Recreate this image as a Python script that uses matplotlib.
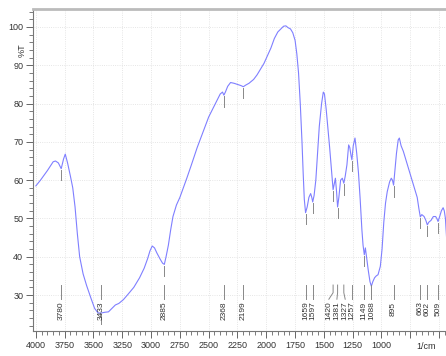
"""IR spectrum (%T vs wavenumber) with peak labels, Shimadzu-style."""

import matplotlib
matplotlib.use("Agg")
import matplotlib.pyplot as plt
from matplotlib.ticker import MultipleLocator, FuncFormatter
from matplotlib.transforms import blended_transform_factory

# -------------------- data --------------------

wavenumber = [
    4000, 3960, 3900, 3850, 3830, 3805, 3780, 3760, 3745, 3725, 3700, 3680,
    3660, 3640, 3620, 3590, 3560, 3520, 3490, 3460, 3433, 3400, 3370, 3340,
    3310, 3280, 3240, 3200, 3150, 3100, 3060, 3030, 3010, 2990, 2970, 2950,
    2920, 2900, 2885, 2870, 2850, 2830, 2810, 2780, 2750, 2720, 2690, 2650,
    2600, 2550, 2500, 2450, 2400, 2380, 2368, 2355, 2335, 2310, 2280, 2250,
    2220, 2199, 2180, 2150, 2110, 2080, 2050, 2020, 1990, 1960, 1930, 1900,
    1870, 1850, 1830, 1810, 1790, 1770, 1750, 1735, 1720, 1705, 1690, 1680,
    1670, 1659, 1645, 1630, 1615, 1605, 1597, 1585, 1570, 1555, 1540, 1520,
    1505, 1495, 1480, 1465, 1450, 1435, 1420, 1410, 1400, 1390, 1381, 1370,
    1355, 1340, 1327, 1315, 1300, 1285, 1275, 1265, 1257, 1245, 1230, 1215,
    1200, 1185, 1170, 1160, 1149, 1140, 1130, 1115, 1100, 1088, 1075, 1060,
    1045, 1030, 1010, 995, 980, 965, 950, 930, 915, 905, 895, 885,
    870, 855, 845, 830, 810, 790, 770, 750, 730, 710, 690, 675,
    663, 650, 630, 615, 602, 590, 570, 550, 530, 520, 509, 495,
    480, 465, 455, 445, 435,
]
transmittance = [
    58.5, 60.0, 62.5, 64.8, 65.0, 64.5, 63.0, 65.5, 66.8, 64.5, 61.0, 58.0,
    53.0, 46.0, 40.0, 35.5, 32.5, 29.0, 26.5, 25.3, 25.3, 25.5, 25.6, 26.5,
    27.4, 27.8, 28.8, 30.2, 32.0, 34.5, 37.0, 39.5, 41.5, 42.8, 42.3, 41.0,
    39.3, 38.3, 38.0, 40.0, 43.0, 47.0, 50.5, 53.5, 55.5, 58.0, 60.5, 64.0,
    68.5, 72.5, 76.5, 79.5, 82.5, 83.0, 82.2, 83.0, 84.5, 85.5, 85.3, 85.0,
    84.7, 84.4, 84.8, 85.3, 86.3, 87.5, 89.0, 90.5, 92.5, 94.5, 97.0, 98.7,
    99.6, 100.2, 100.3, 99.8, 99.5, 98.5, 96.5, 93.0, 88.0, 80.0, 70.0, 62.0,
    55.0, 51.5, 53.0, 55.5, 56.5, 55.5, 54.3, 56.0, 60.0, 67.0, 74.0, 80.0,
    83.0, 82.5, 78.5, 73.5, 68.5, 63.0, 57.5, 59.0, 60.5, 57.0, 53.0, 55.5,
    60.0, 60.5, 59.2, 61.0, 64.0, 69.2, 68.5, 66.5, 65.3, 69.0, 71.0, 67.0,
    62.0, 55.0, 47.0, 43.0, 40.5, 42.3, 40.0, 36.5, 33.5, 32.3, 33.5, 34.5,
    35.0, 35.3, 37.5, 42.0, 49.0, 54.0, 57.0, 59.5, 60.5, 60.0, 58.7, 62.0,
    67.0, 70.5, 71.0, 69.0, 67.5, 65.5, 63.5, 61.5, 59.5, 57.4, 55.5, 52.5,
    50.4, 51.0, 50.5, 49.5, 48.3, 49.0, 49.5, 50.5, 50.5, 50.0, 49.2, 50.5,
    52.0, 52.8, 52.0, 50.0, 45.0,
]

peaks = [3780, 3433, 2885, 2368, 2199, 1659, 1597, 1420, 1381, 1327,
         1257, 1149, 1088, 895, 663, 602, 509]

# -------------------- layout --------------------

# sideways nudges (in 1/cm) for crowded peak labels
label_shift = {1420: 37, 1381: 6, 1327: -12}

LINE_COLOR = "#7f7fff"
MARK_COLOR = "#888888"
TEXT_COLOR = "#333333"

plt.rcParams["font.family"] = ["Liberation Sans", "DejaVu Sans"]

fig = plt.figure(figsize=(4.46, 3.56), dpi=100)
ax = fig.add_axes([33 / 446, 1 - 331 / 356, 413 / 446, 322 / 356])

ax.plot(wavenumber, transmittance, color=LINE_COLOR, lw=0.8)

# peak marks: small tick under the curve + label line at the bottom
t_at = dict(zip(wavenumber, transmittance))
for wn in peaks:
    t = t_at[wn]
    ax.plot([wn, wn], [t - 0.3, t - 3.0], color=MARK_COLOR, lw=0.7)
    lx = wn + label_shift.get(wn, 0)
    ax.plot([wn, wn, lx], [32.6, 30.6, 28.9], color=MARK_COLOR, lw=0.7)
    ax.text(lx, 28.3, str(wn), rotation=90, ha="center", va="top",
            fontsize=6, color=TEXT_COLOR)

ax.set_xlim(4025, 440)
ax.set_ylim(20.6, 104.7)

ax.xaxis.set_major_locator(MultipleLocator(250))
ax.xaxis.set_minor_locator(MultipleLocator(50))
ax.yaxis.set_major_locator(MultipleLocator(10))
ax.yaxis.set_minor_locator(MultipleLocator(2))
ax.xaxis.set_major_formatter(FuncFormatter(lambda v, p: f"{v:.0f}" if v >= 1000 else ""))
ax.yaxis.set_major_formatter(FuncFormatter(lambda v, p: f"{v:.0f}" if v >= 30 else ""))

ax.tick_params(which="major", length=5, width=0.7, color="#666666",
               labelsize=6.5, labelcolor=TEXT_COLOR, pad=2)
ax.tick_params(which="minor", length=3, width=0.6, color="#666666")

ax.grid(which="major", color="#dddddd", lw=0.6, ls=":")

for side in ("left", "bottom"):
    ax.spines[side].set_color("#777777")
    ax.spines[side].set_linewidth(0.8)
ax.spines["right"].set_visible(False)
ax.spines["top"].set_color("#bbbbbb")
ax.spines["top"].set_linewidth(2)

trans = blended_transform_factory(ax.transData, ax.transAxes)
ax.text(615, -0.048, "1/cm", transform=trans, ha="center", va="center",
        fontsize=6.5, color=TEXT_COLOR)
fig.text(22 / 446, 1 - 50 / 356, "%T", rotation=90, ha="center", va="center",
         fontsize=6.5, color=TEXT_COLOR)

fig.savefig("out.png", dpi=100)
